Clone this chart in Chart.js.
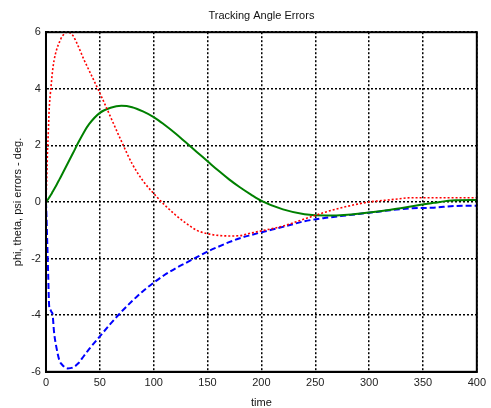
<!DOCTYPE html>
<html>
<head>
<meta charset="utf-8">
<script src="https://cdn.jsdelivr.net/npm/chart.js@4.4.0/dist/chart.umd.min.js"></script>
<style>
  html, body { margin: 0; padding: 0; background: #fff; }
  #wrap { width: 491px; height: 408px; }
</style>
</head>
<body>
<div id="wrap"><canvas id="c" width="491" height="408"></canvas></div>
<script>
const timeVals = [0,0.5,1,1.5,2,3,4,5,6,7.5,10,12.5,15,20,25,30,35,40,50,60,70,80,90,100,110,120,130,140,150,160,170,180,190,200,220,240,260,280,300,320,340,360,380,400];
const phiErr   = [0,0.6,1.2,1.9,2.3,3.3,3.8,4.2,4.6,5.0,5.4,5.65,5.85,6.0,5.88,5.5,5.05,4.65,3.85,3.0,2.15,1.35,0.75,0.3,-0.1,-0.45,-0.75,-1.0,-1.12,-1.18,-1.2,-1.19,-1.1,-1.02,-0.85,-0.6,-0.35,-0.15,0.0,0.08,0.15,0.15,0.15,0.15];
const thetaErr = [0,0.02,0.05,0.08,0.1,0.16,0.22,0.28,0.35,0.45,0.62,0.8,0.98,1.35,1.72,2.1,2.45,2.75,3.15,3.33,3.4,3.35,3.2,3.0,2.73,2.43,2.1,1.77,1.44,1.11,0.8,0.52,0.27,0.04,-0.26,-0.43,-0.48,-0.45,-0.37,-0.27,-0.15,-0.03,0.06,0.07];
const psiErr   = [0,-0.52,-1.2,-1.82,-2.5,-3.7,-3.8,-3.88,-3.94,-4.6,-5.2,-5.6,-5.75,-5.88,-5.85,-5.7,-5.45,-5.2,-4.75,-4.3,-3.88,-3.5,-3.15,-2.85,-2.58,-2.35,-2.15,-1.95,-1.75,-1.58,-1.42,-1.28,-1.17,-1.07,-0.88,-0.68,-0.56,-0.47,-0.38,-0.29,-0.22,-0.2,-0.14,-0.13];
const xTicks = [0,50,100,150,200,250,300,350,400];
const yTicks = [-6,-4,-2,0,2,4,6];

const pts = arr => timeVals.map((t, i) => ({x: t, y: arr[i]}));

const boxPlugin = {
  id: 'box',
  afterDraw(chart) {
    const {ctx, chartArea: a} = chart;
    ctx.save();
    ctx.strokeStyle = '#000';
    ctx.lineWidth = 2;
    ctx.strokeRect(a.left, a.top, a.right - a.left, a.bottom - a.top);
    ctx.restore();
  }
};

Chart.defaults.font.family = '"Liberation Sans", Arial, sans-serif';
Chart.defaults.font.size = 11;
Chart.defaults.color = '#222';

new Chart(document.getElementById('c'), {
  type: 'line',
  data: {
    datasets: [
      { label: 'phi', data: pts(phiErr), borderColor: '#ff0000', borderWidth: 1.6, borderDash: [2, 2], pointRadius: 0, cubicInterpolationMode: 'monotone', fill: false },
      { label: 'theta', data: pts(thetaErr), borderColor: '#008000', borderWidth: 2, pointRadius: 0, cubicInterpolationMode: 'monotone', fill: false },
      { label: 'psi', data: pts(psiErr), borderColor: '#0000ff', borderWidth: 2, borderDash: [6, 3], pointRadius: 0, cubicInterpolationMode: 'monotone', fill: false }
    ]
  },
  options: {
    responsive: false,
    animation: false,
    layout: { padding: { left: 11, right: 8, top: 0, bottom: 0 } },
    plugins: {
      legend: { display: false },
      tooltip: { enabled: false },
      title: { display: true, fullSize: false, text: 'Tracking Angle Errors', color: '#111', font: { size: 11, weight: 'normal' }, padding: { top: 9, bottom: 10 } }
    },
    scales: {
      x: {
        type: 'linear', min: 0, max: 400,
        afterBuildTicks: s => { s.ticks = xTicks.map(v => ({value: v})); },
        ticks: { padding: 5, color: '#222', maxRotation: 0 },
        grid: { color: '#000', lineWidth: 1.5, drawTicks: false },
        border: { display: true, color: '#000', width: 2, dash: [2, 2] },
        title: { display: true, text: 'time', color: '#111', font: { lineHeight: 1 }, padding: { top: 2, bottom: 0 } }
      },
      y: {
        type: 'linear', min: -6, max: 6,
        afterBuildTicks: s => { s.ticks = yTicks.map(v => ({value: v})); },
        ticks: { padding: 5, color: '#222' },
        grid: { color: '#000', lineWidth: 1.5, drawTicks: false },
        border: { display: true, color: '#000', width: 2, dash: [2, 2] },
        title: { display: true, text: 'phi, theta, psi errors - deg.', color: '#111', padding: { top: 0, bottom: 2 } }
      }
    }
  },
  plugins: [boxPlugin]
});
</script>
</body>
</html>
